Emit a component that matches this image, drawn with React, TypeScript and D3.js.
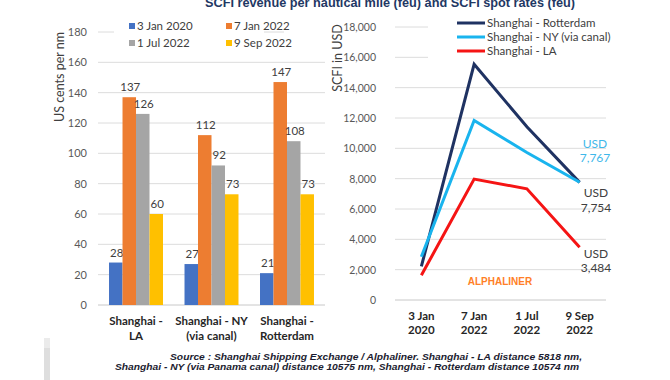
import React from "react";
import * as d3 from "d3";

// ---------- data ----------
const routes = ["Shanghai - LA", "Shanghai - NY (via canal)", "Shanghai - Rotterdam"];
const routeLabels = [["Shanghai -", "LA"], ["Shanghai - NY", "(via canal)"], ["Shanghai -", "Rotterdam"]];
const dates = ["3 Jan 2020", "7 Jan 2022", "1 Jul 2022", "9 Sep 2022"];
const dateLabels = [["3 Jan", "2020"], ["7 Jan", "2022"], ["1 Jul", "2022"], ["9 Sep", "2022"]];
// revenue, US cents per nm, per date series, by route
const rev3Jan2020 = [28, 27, 21];
const rev7Jan2022 = [137, 112, 147];
const rev1Jul2022 = [126, 92, 108];
const rev9Sep2022 = [60, 73, 73];
const revSeries = [rev3Jan2020, rev7Jan2022, rev1Jul2022, rev9Sep2022];
const leftTicks = [0, 20, 40, 60, 80, 100, 120, 140, 160, 180];

// SCFI in USD per feu
const scfiRotterdam = [2220, 15544, 11420, 7754];
const scfiNY = [2855, 11844, 9729, 7767];
const scfiLA = [1629, 7971, 7331, 3484];
const lineSeries = [
  { name: "Shanghai - Rotterdam", values: scfiRotterdam, color: "#1f3262" },
  { name: "Shanghai - NY (via canal)", values: scfiNY, color: "#19b4ee" },
  { name: "Shanghai - LA", values: scfiLA, color: "#f51414" },
];
const rightTicks = [0, 2000, 4000, 6000, 8000, 10000, 12000, 14000, 16000, 18000];

const barColors = ["#4472c4", "#ed7d31", "#a5a5a5", "#ffc000"];
const FONT = "Lato, 'Open Sans', sans-serif";
const TXT = "#404040";
const ARIAL = "'Liberation Sans', Arial, sans-serif";

export default function App() {
  // left chart scales
  const yL = d3.scaleLinear().domain([0, 180]).range([305, 32]);
  const x0 = d3.scaleBand().domain(routes).range([98, 325]).paddingInner(0.285).paddingOuter(0.146);
  const x1 = d3.scaleBand().domain(dates).range([0, x0.bandwidth()]);

  // right chart scales
  const yR = d3.scaleLinear().domain([0, 18000]).range([300, 27]);
  const xR = d3.scalePoint().domain(dates).range([395, 606]).padding(0.5);
  const fmt = d3.format(",");
  const line = d3
    .line<number>()
    .x((_, i) => xR(dates[i]) as number)
    .y((v) => yR(v));

  return (
    <svg
      width={670}
      height={380}
      style={{ position: "absolute", left: 0, top: 0, background: "#fff" }}
      fontFamily={FONT}
    >
      {/* Title */}
      <text
        x={390}
        y={7}
        textAnchor="middle"
        fontFamily={ARIAL}
        fontWeight="bold"
        fontSize={13.5}
        fill="#1f3864"
        textLength={370}
        lengthAdjust="spacingAndGlyphs"
      >
        SCFI revenue per nautical mile (feu) and SCFI spot rates (feu)
      </text>

      {/* ---------- Left bar chart ---------- */}
      {leftTicks.map((t) => (
        <line
          key={"lg" + t}
          x1={98}
          x2={325}
          y1={yL(t)}
          y2={yL(t)}
          stroke={t === 0 ? "#c8c8c8" : "#dcdcdc"}
          strokeWidth={1}
        />
      ))}
      {/* legend background covering top gridline */}
      <rect x={114} y={17} width={150} height={33} fill="#fff" />
      <rect x={284} y={17} width={42} height={33} fill="#fff" />
      {leftTicks.map((t) => (
        <text key={"lt" + t} x={87} y={yL(t) + 4} textAnchor="end" fontSize={11} fill="#595959">
          {t}
        </text>
      ))}
      <text transform={`translate(64,77) rotate(-90)`} textAnchor="middle" fontSize={12.5} fill={TXT}>
        US cents per nm
      </text>
      {routes.map((r, ri) => (
        <g key={r} transform={`translate(${x0(r)},0)`}>
          {dates.map((d, di) => {
            const v = revSeries[di][ri];
            const bx = x1(d) as number;
            return (
              <g key={d}>
                <rect x={bx} y={yL(v)} width={x1.bandwidth()} height={yL(0) - yL(v)} fill={barColors[di]} />
                <text
                  x={bx + x1.bandwidth() / 2 + 1}
                  y={yL(v) - 6}
                  textAnchor="middle"
                  fontSize={11.5}
                  fill={TXT}
                >
                  {v}
                </text>
              </g>
            );
          })}
          {routeLabels[ri].map((l, li) => (
            <text
              key={l}
              x={x0.bandwidth() / 2}
              y={325 + li * 15}
              textAnchor="middle"
              fontSize={11.5}
              fontWeight="bold"
              fill="#262626"
            >
              {l}
            </text>
          ))}
        </g>
      ))}
      {/* left legend */}
      {dates.map((d, i) => {
        const lx = i % 2 === 0 ? 130 : 227;
        const ly = i < 2 ? 26 : 43;
        return (
          <g key={"leg" + d}>
            <rect x={lx - 1} y={ly - 3} width={6} height={6} fill={barColors[i]} />
            <text x={lx + 7} y={ly + 4} fontSize={11.5} fill={TXT}>
              {d}
            </text>
          </g>
        );
      })}

      {/* gray artifact bottom-left */}
      <rect x={44} y={338} width={6} height={42} fill="#ebebeb" />
      <rect x={44} y={348} width={6} height={32} fill="#dedede" />

      {/* ---------- Right line chart ---------- */}
      {rightTicks.map((t) => (
        <line
          key={"rg" + t}
          x1={395}
          x2={606}
          y1={yR(t)}
          y2={yR(t)}
          stroke={t === 0 ? "#c8c8c8" : "#dcdcdc"}
          strokeWidth={1}
        />
      ))}
      <rect x={428} y={16} width={180} height={44} fill="#fff" />
      {rightTicks.map((t) => (
        <text key={"rt" + t} x={376} y={yR(t) + 4} textAnchor="end" fontSize={10.5} fill="#595959">
          {fmt(t)}
        </text>
      ))}
      <text transform={`translate(342,58) rotate(-90)`} textAnchor="middle" fontSize={12.5} fill={TXT}>
        SCFI in USD
      </text>
      {dateLabels.map((dl, i) =>
        dl.map((l, li) => (
          <text
            key={i + "-" + li}
            x={xR(dates[i]) as number}
            y={320 + li * 13.5}
            textAnchor="middle"
            fontSize={11.5}
            fontWeight="bold"
            fill="#262626"
          >
            {l}
          </text>
        ))
      )}
      {lineSeries.map((s) => (
        <path key={s.name} d={line(s.values) || ""} fill="none" stroke={s.color} strokeWidth={3} strokeLinejoin="miter" />
      ))}
      {/* right legend */}
      {lineSeries.map((s, i) => (
        <g key={"rl" + s.name}>
          <line x1={457} x2={485} y1={23 + i * 14} y2={23 + i * 14} stroke={s.color} strokeWidth={3} />
          <text x={487} y={27 + i * 14} fontSize={11.5} fill={TXT}>
            {s.name}
          </text>
        </g>
      ))}
      {/* end annotations */}
      <text x={595} y={147.5} textAnchor="middle" fontSize={12} fill="#3fb8ea">USD</text>
      <text x={595} y={161.5} textAnchor="middle" fontSize={12} fill="#3fb8ea">{fmt(scfiNY[3])}</text>
      <text x={596} y={196.5} textAnchor="middle" fontSize={12} fill={TXT}>USD</text>
      <text x={596} y={211.5} textAnchor="middle" fontSize={12} fill={TXT}>{fmt(scfiRotterdam[3])}</text>
      <text x={596} y={258} textAnchor="middle" fontSize={12} fill={TXT}>USD</text>
      <text x={596} y={271.5} textAnchor="middle" fontSize={12} fill={TXT}>{fmt(scfiLA[3])}</text>

      <text x={500} y={285} textAnchor="middle" fontFamily={ARIAL} fontWeight="bold" fontSize={10} fill="#ff7f27">
        ALPHALINER
      </text>

      {/* Source */}
      <text
        x={170}
        y={360}
        fontFamily={ARIAL}
        fontWeight="bold"
        fontStyle="italic"
        fontSize={9}
        fill="#1c1c30"
        textLength={412}
        lengthAdjust="spacingAndGlyphs"
      >
        Source : Shanghai Shipping Exchange / Alphaliner. Shanghai - LA distance 5818 nm,
      </text>
      <text
        x={115}
        y={369.5}
        fontFamily={ARIAL}
        fontWeight="bold"
        fontStyle="italic"
        fontSize={9}
        fill="#1c1c30"
        textLength={464}
        lengthAdjust="spacingAndGlyphs"
      >
        Shanghai - NY (via Panama canal) distance 10575 nm, Shanghai - Rotterdam distance 10574 nm
      </text>
    </svg>
  );
}
